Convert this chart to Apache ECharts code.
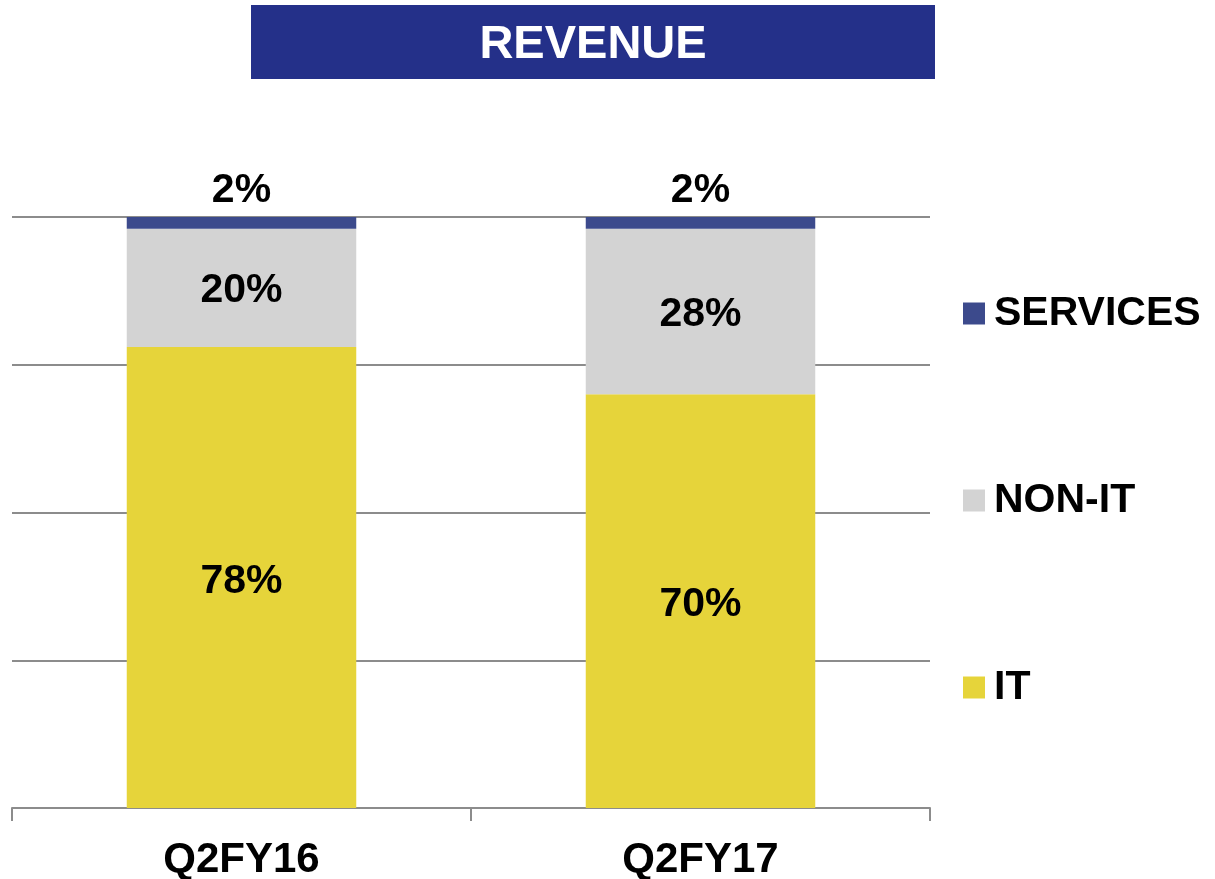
<!DOCTYPE html>
<html>
<head>
<meta charset="utf-8">
<script src="https://cdn.jsdelivr.net/npm/echarts@6/dist/echarts.min.js"></script>
<style>
  html, body { margin: 0; padding: 0; background: #fff; }
  #main { width: 1215px; height: 879px; }
</style>
</head>
<body>
<div id="main"></div>
<script>
var categories = ['Q2FY16', 'Q2FY17'];
var itShare = [78, 70];
var nonItShare = [20, 28];
var servicesShare = [2, 2];
var legendOrder = ['SERVICES', 'NON-IT', 'IT'];

var font = '"Liberation Sans", Arial, sans-serif';
var myChart = echarts.init(document.getElementById('main'));

function pct(p) { return p.value + '%'; }

var option = {
  backgroundColor: '#ffffff',
  textStyle: { fontFamily: font },
  graphic: [{
    type: 'group',
    left: 251,
    top: 5,
    children: [
      { type: 'rect', shape: { x: 0, y: 0, width: 684, height: 74 }, style: { fill: '#243089' } },
      { type: 'text', x: 342, y: 40, style: {
          text: 'REVENUE', fill: '#ffffff', font: 'bold 47px ' + font,
          textAlign: 'center', textVerticalAlign: 'middle' } }
    ]
  }],
  legend: {
    orient: 'vertical',
    left: 958,
    top: 288,
    data: legendOrder,
    icon: 'rect',
    itemWidth: 22,
    itemHeight: 22,
    itemGap: 146,
    textStyle: { fontFamily: font, fontSize: 41, fontWeight: 'bold', color: '#000', padding: [0, 0, 0, 4] },
    selectedMode: false
  },
  grid: { left: 12, right: 285, top: 217, bottom: 71, containLabel: false, outerBoundsMode: 'none' },
  xAxis: {
    type: 'category',
    data: categories,
    axisLine: { lineStyle: { color: '#8c8c8c', width: 2 } },
    axisTick: { show: true, length: 13, lineStyle: { color: '#8c8c8c', width: 2 } },
    axisLabel: { fontFamily: font, fontSize: 42, fontWeight: 'bold', color: '#000', margin: 31 }
  },
  yAxis: {
    type: 'value',
    min: 0,
    max: 100,
    interval: 25,
    axisLabel: { show: false },
    axisLine: { show: false },
    axisTick: { show: false },
    splitLine: { lineStyle: { color: '#8c8c8c', width: 2 } }
  },
  series: [
    {
      name: 'IT', type: 'bar', stack: 'rev', data: itShare, barWidth: '50%',
      itemStyle: { color: '#E6D43A' },
      label: { show: true, position: 'inside', offset: [0, 4], formatter: pct, fontFamily: font, fontSize: 41, fontWeight: 'bold', color: '#000' }
    },
    {
      name: 'NON-IT', type: 'bar', stack: 'rev', data: nonItShare,
      itemStyle: { color: '#D3D3D3' },
      label: { show: true, position: 'inside', offset: [0, 3], formatter: pct, fontFamily: font, fontSize: 41, fontWeight: 'bold', color: '#000' }
    },
    {
      name: 'SERVICES', type: 'bar', stack: 'rev', data: servicesShare,
      itemStyle: { color: '#3C4A8C' },
      label: { show: true, position: 'top', distance: 6, formatter: pct, fontFamily: font, fontSize: 41, fontWeight: 'bold', color: '#000' }
    }
  ]
};

myChart.setOption(option);
</script>
</body>
</html>
